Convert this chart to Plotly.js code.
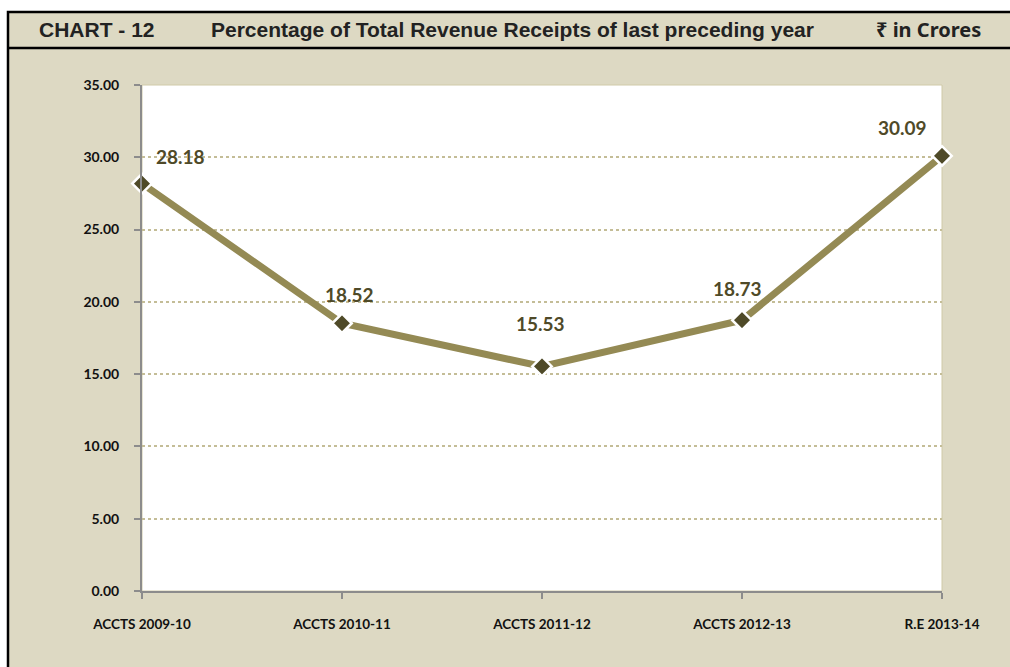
<!DOCTYPE html>
<html><head><meta charset="utf-8">
<script src="https://cdn.plot.ly/plotly-3.0.1.min.js"></script>
<style>html,body{margin:0;padding:0;background:#fff;}#chart{width:1010px;height:667px;}</style>
</head><body><div id="chart"></div>
<script>
const categories = ["ACCTS 2009-10","ACCTS 2010-11","ACCTS 2011-12","ACCTS 2012-13","R.E 2013-14"];
const values = [28.18, 18.52, 15.53, 18.73, 30.09];
const valueLabels = ["28.18","18.52","15.53","18.73","30.09"];
const yTicks = [0,5,10,15,20,25,30,35];
const yTickText = ["0.00","5.00","10.00","15.00","20.00","25.00","30.00","35.00"];
const labelShiftX = [38, 7, -2, -5, -40];
const labelShiftY = [27, 29, 43, 32, 28];

const L=142, R=68, T=85, B=76, W=800, H=506;
const px = x => (x-L)/W;
const py = y => (591-y)/H;

const lineTrace = {
  x: categories, y: values, type:'scatter', mode:'lines+markers',
  line:{color:'#948A54', width:7},
  marker:{symbol:'diamond', size:15, color:'#4F4A28', line:{color:'#ffffff', width:2.5}},
  cliponaxis:false, hoverinfo:'skip', showlegend:false
};

const labelFont = {family:'Lato, "Open Sans", sans-serif', size:19, color:'#4F4A28', weight:'bold'};
const valueAnnotations = categories.map((c,i)=>({
  x:c, y:values[i], xref:'x', yref:'y', text:valueLabels[i], showarrow:false,
  xshift:labelShiftX[i], yshift:labelShiftY[i], xanchor:'center', yanchor:'middle',
  font:labelFont
}));

const titleFont = {family:'"Liberation Sans", Arial, sans-serif', size:21, color:'#222', weight:'bold'};
const layout = {
  width:1010, height:667,
  margin:{l:L, r:R, t:T, b:B, pad:0},
  paper_bgcolor:'#ffffff', plot_bgcolor:'#ffffff',
  xaxis:{
    type:'category', range:[0,4], showgrid:false, zeroline:false,
    showline:true, linecolor:'#8C8C8C', linewidth:2,
    ticks:'outside', ticklen:6, tickcolor:'#8C8C8C', tickwidth:2,
    tickfont:{family:'Lato, "Open Sans", sans-serif', size:13.5, color:'#111', weight:'bold'},
    ticklabelstandoff:14, fixedrange:true
  },
  yaxis:{
    range:[0,35], tickvals:yTicks, ticktext:yTickText,
    showgrid:true, gridcolor:'#C4BD97', griddash:'dot', gridwidth:2,
    zeroline:false, showline:true, linecolor:'#8C8C8C', linewidth:2,
    ticks:'outside', ticklen:6, tickcolor:'#8C8C8C', tickwidth:2,
    tickfont:{family:'Lato, "Open Sans", sans-serif', size:14, color:'#111', weight:'bold'},
    ticklabelstandoff:12, fixedrange:true
  },
  shapes:[
    {type:'rect', xref:'paper', yref:'paper', layer:'below',
     x0:px(8), x1:px(1015), y0:py(675), y1:py(12),
     fillcolor:'#DDD9C3', line:{color:'#000', width:2.5}},
    {type:'line', xref:'paper', yref:'paper', layer:'below',
     x0:px(8), x1:px(1015), y0:py(48), y1:py(48),
     line:{color:'#000', width:2.5}},
    {type:'rect', xref:'paper', yref:'paper', layer:'below',
     x0:0, x1:1, y0:0, y1:1, fillcolor:'#ffffff', line:{color:'#D0CAA8', width:1}}
  ],
  annotations:[
    {xref:'paper', yref:'paper', x:px(37), y:py(30), xanchor:'left', yanchor:'middle',
     text:'CHART - 12', showarrow:false, font:titleFont},
    {xref:'paper', yref:'paper', x:px(512), y:py(30), xanchor:'center', yanchor:'middle',
     text:'Percentage of Total Revenue Receipts of last preceding year', showarrow:false, font:titleFont},
    {xref:'paper', yref:'paper', x:px(983), y:py(30), xanchor:'right', yanchor:'middle',
     text:'₹ in Crores', showarrow:false,
     font:{family:'"Noto Sans", "DejaVu Sans", sans-serif', size:20, color:'#222', weight:'bold'}}
  ].concat(valueAnnotations)
};
Plotly.newPlot('chart', [lineTrace], layout, {displayModeBar:false, staticPlot:true});
</script></body></html>
